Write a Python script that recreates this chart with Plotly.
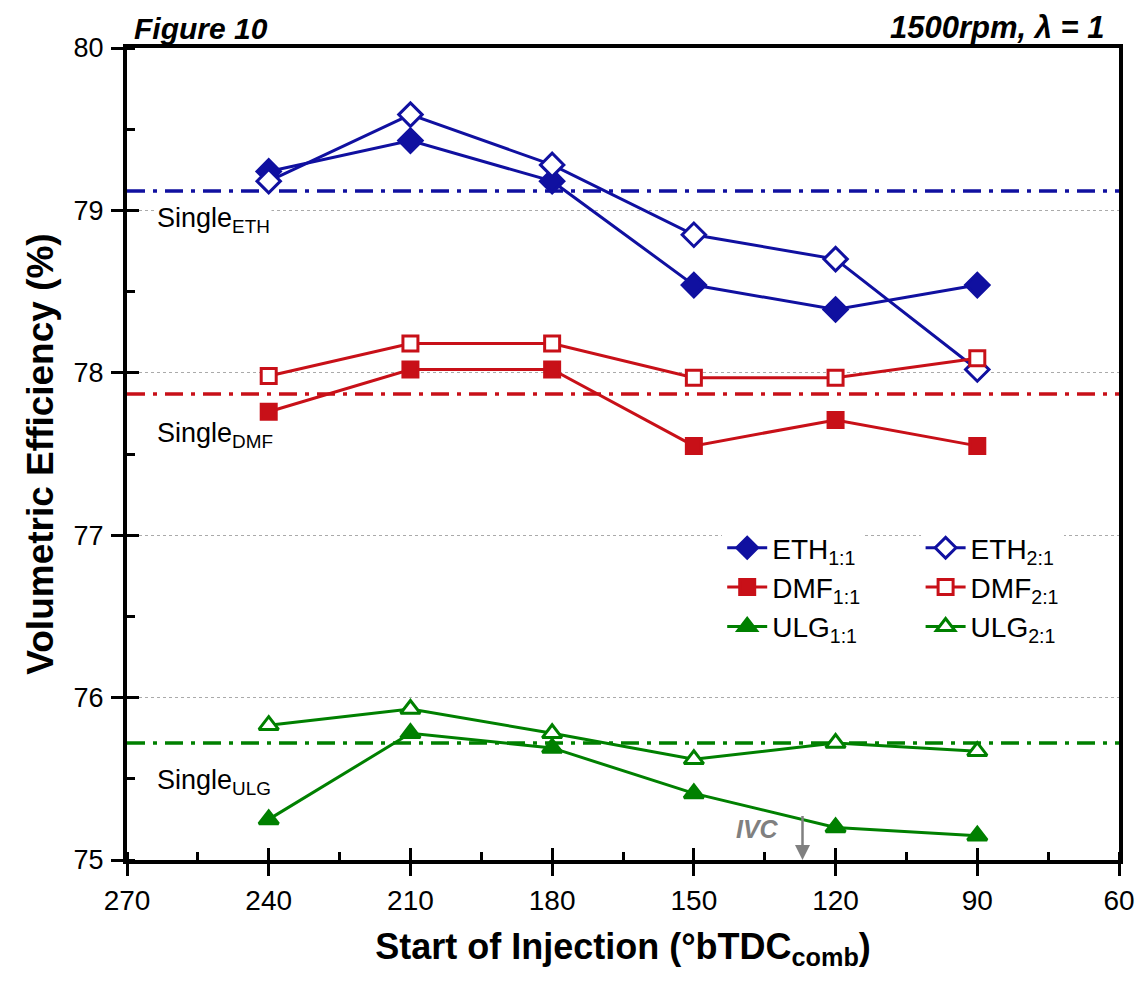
import plotly.graph_objects as go

# Start of injection (deg bTDC, combustion)
soi = [240, 210, 180, 150, 120, 90]

# Volumetric efficiency (%) per fuel / split ratio
eth_11 = [79.24, 79.43, 79.18, 78.54, 78.39, 78.54]
eth_21 = [79.18, 79.59, 79.28, 78.85, 78.70, 78.02]
dmf_11 = [77.76, 78.02, 78.02, 77.55, 77.71, 77.55]
dmf_21 = [77.98, 78.18, 78.18, 77.97, 77.97, 78.09]
ulg_11 = [75.25, 75.78, 75.69, 75.41, 75.20, 75.15]
ulg_21 = [75.83, 75.93, 75.78, 75.62, 75.72, 75.67]

# Single-injection reference levels
single_eth = 79.12
single_dmf = 77.87
single_ulg = 75.72

# Intake valve closing position
ivc = 127

BLUE = "rgb(16,16,160)"
RED = "rgb(200,16,24)"
GREEN = "rgb(0,128,0)"
FONT = "Arial, Liberation Sans, sans-serif"

fig = go.Figure()

# Dash-dot single-injection reference lines
for level, color in [(single_eth, BLUE), (single_dmf, RED), (single_ulg, GREEN)]:
    fig.add_hline(y=level, line=dict(color=color, width=3.5, dash="18px,8px,4px,8px"), layer="below")

# (name, values, colour, symbol, size, hollow, legend)
series = [
    ("ETH<sub>1:1</sub>", eth_11, BLUE, "diamond", 18, False, "legend"),
    ("ETH<sub>2:1</sub>", eth_21, BLUE, "diamond", 18, True, "legend2"),
    ("DMF<sub>1:1</sub>", dmf_11, RED, "square", 15, False, "legend"),
    ("DMF<sub>2:1</sub>", dmf_21, RED, "square", 15, True, "legend2"),
    ("ULG<sub>1:1</sub>", ulg_11, GREEN, "triangle-up", 17, False, "legend"),
    ("ULG<sub>2:1</sub>", ulg_21, GREEN, "triangle-up", 17, True, "legend2"),
]
for name, vals, color, sym, size, hollow, leg in series:
    fig.add_trace(go.Scatter(
        x=soi, y=vals, name=name, mode="lines+markers",
        line=dict(color=color, width=3),
        marker=dict(symbol=sym, size=size, color="white" if hollow else color,
                    line=dict(color=color, width=3)),
        legend=leg,
    ))

# Overlay axes carrying the inward half of the major ticks
fig.add_trace(go.Scatter(x=[], y=[], xaxis="x2", yaxis="y2", showlegend=False, hoverinfo="skip"))

axis_common = dict(showline=True, linecolor="black", linewidth=4, zeroline=False)

fig.update_layout(
    width=1147, height=983,
    margin=dict(l=127, r=22, t=48, b=123),
    paper_bgcolor="white", plot_bgcolor="white",
    font=dict(family=FONT, color="black"),
    xaxis=dict(
        range=[270, 60], tickmode="array", tickvals=[270, 240, 210, 180, 150, 120, 90, 60],
        ticks="outside", ticklen=12, tickwidth=3, tickcolor="black",
        minor=dict(dtick=15, tick0=60, ticks="inside", ticklen=8, tickwidth=3, tickcolor="black"),
        mirror=True, showgrid=False,
        tickfont=dict(family=FONT, size=28),
        title=dict(text="<b>Start of Injection (°bTDC<sub>comb</sub>)</b>",
                   font=dict(family=FONT, size=36), standoff=20),
        **axis_common,
    ),
    yaxis=dict(
        range=[75, 80], tickmode="array", tickvals=[75, 76, 77, 78, 79, 80],
        ticks="outside", ticklen=12, tickwidth=3, tickcolor="black",
        minor=dict(dtick=0.5, tick0=75, ticks="inside", ticklen=8, tickwidth=3, tickcolor="black",
                   showgrid=False),
        mirror=True, showgrid=True, gridcolor="#aaaaaa", gridwidth=1, griddash="dot",
        tickfont=dict(family=FONT, size=27), ticklabelstandoff=2,
        title=dict(text="<b>Volumetric Efficiency (%)</b>", font=dict(family=FONT, size=37), standoff=10),
        **axis_common,
    ),
    xaxis2=dict(overlaying="x", range=[270, 60], tickvals=[270, 240, 210, 180, 150, 120, 90, 60],
                ticks="inside", ticklen=12, tickwidth=3, tickcolor="black",
                showticklabels=False, showgrid=False, zeroline=False, side="bottom"),
    yaxis2=dict(overlaying="y", range=[75, 80], tickvals=[75, 76, 77, 78, 79, 80],
                ticks="inside", ticklen=12, tickwidth=3, tickcolor="black",
                showticklabels=False, showgrid=False, zeroline=False, side="left"),
    legend=dict(x=0.6, y=0.415, xanchor="left", yanchor="top", bgcolor="white",
                font=dict(family=FONT, size=28), tracegroupgap=0, itemwidth=40),
    legend2=dict(x=0.8, y=0.415, xanchor="left", yanchor="top", bgcolor="white",
                 font=dict(family=FONT, size=28), tracegroupgap=0, itemwidth=40),
    showlegend=True,
)

# Labels for the single-injection levels
for label, yv, bg in [("Single<sub>ETH</sub>", single_eth - 0.18, "white"),
                      ("Single<sub>DMF</sub>", single_dmf - 0.25, "rgba(0,0,0,0)"),
                      ("Single<sub>ULG</sub>", single_ulg - 0.24, "rgba(0,0,0,0)")]:
    fig.add_annotation(x=264, y=yv, xref="x", yref="y", text=label, showarrow=False,
                       xanchor="left", yanchor="middle", bgcolor=bg,
                       font=dict(family=FONT, size=27, color="black"))

# IVC marker
fig.add_annotation(x=ivc, y=75.0, ax=ivc, ay=75.28, xref="x", yref="y", axref="x", ayref="y",
                   showarrow=True, arrowhead=2, arrowsize=1.2, arrowwidth=2.5, arrowcolor="gray",
                   text="")
fig.add_annotation(x=ivc + 4.5, y=75.19, xref="x", yref="y", text="<b><i>IVC</i></b>",
                   showarrow=False, xanchor="right", yanchor="middle",
                   font=dict(family=FONT, size=25, color="gray"))

# Header texts
fig.add_annotation(x=0.005, y=1.0, xref="paper", yref="paper", yshift=1, text="<b><i>Figure 10</i></b>",
                   showarrow=False, xanchor="left", yanchor="bottom",
                   font=dict(family=FONT, size=30))
fig.add_annotation(x=0.988, y=1.0, xref="paper", yref="paper", yshift=1, text="<b><i>1500rpm, λ = 1</i></b>",
                   showarrow=False, xanchor="right", yanchor="bottom",
                   font=dict(family=FONT, size=31))

fig.write_html("out.html")
